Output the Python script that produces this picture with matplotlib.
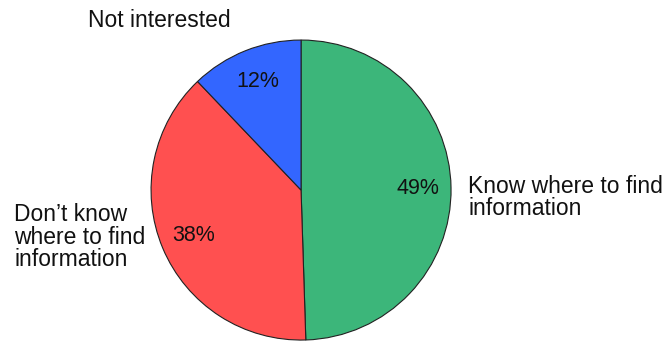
import matplotlib.pyplot as plt

labels = ["Know where to find\ninformation", "Don\u2019t know\nwhere to find\ninformation", "Not interested"]
values = [49, 38, 12]
colors = ["#3cb67a", "#ff5050", "#3366ff"]

plt.rcParams["font.family"] = ["Liberation Sans", "DejaVu Sans"]

fig = plt.figure(figsize=(6.69, 3.42), dpi=100)
ax = fig.add_axes([0, 0, 1, 1])

wedges, texts, autotexts = ax.pie(
    values, colors=colors, startangle=90, counterclock=False,
    labels=labels, labeldistance=1.2,
    autopct=lambda p: f"{p * sum(values) / 100:.0f}%", pctdistance=0.78,
    wedgeprops=dict(edgecolor="#222222", linewidth=0.8),
    textprops=dict(fontsize=16.5, color="#111111"),
)

# label placement as in the reference
label_pos = [(1.113, -0.047, "left"), (-1.913, -0.313, "left"), (-1.42, 1.133, "left")]
for t, (x, y, ha) in zip(texts, label_pos):
    t.set_position((x, y))
    t.set_ha(ha)
    t.set_va("center")
    t.set_linespacing(0.95)

for t in autotexts:
    t.set_fontsize(15.5)

ax.set_aspect("equal")
ax.set_xlim(-2.007, 2.453)
ax.set_ylim(-1.013, 1.267)
ax.axis("off")

plt.savefig("out.png", dpi=100)
plt.close()
